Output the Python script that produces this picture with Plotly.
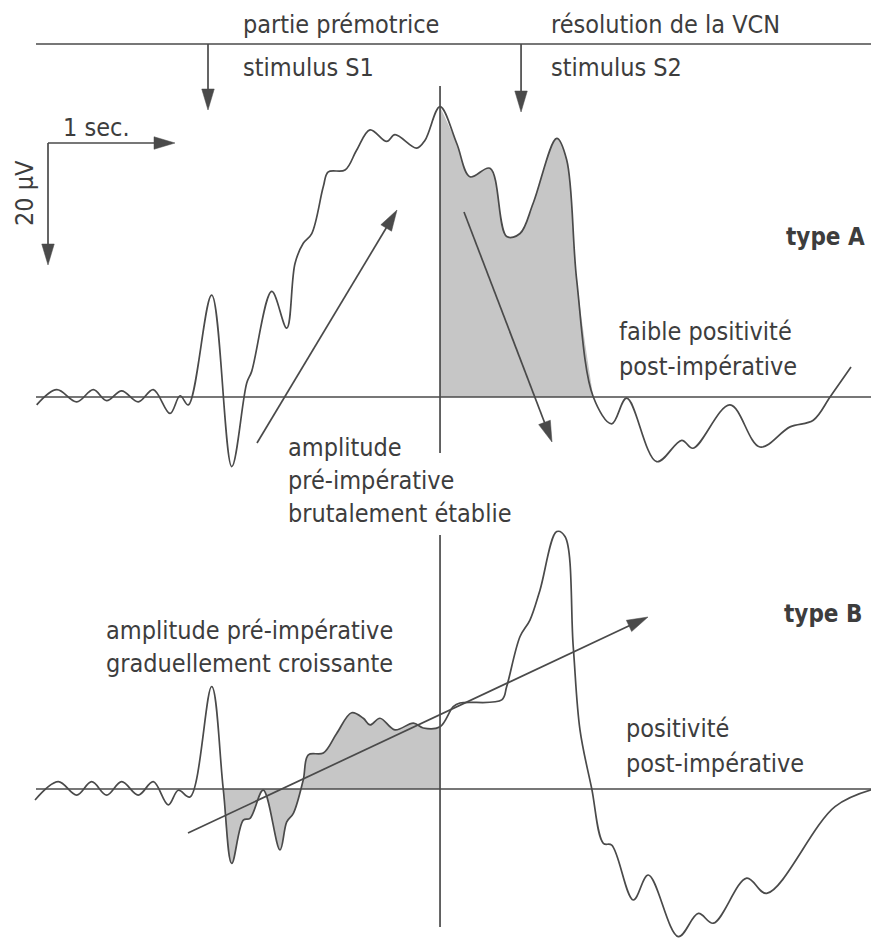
import math
import plotly.graph_objects as go

# ---------------- data (time in s from S1, amplitude in µV, negative = up) -------------
time_A = [-1.349, -1.191, -1.034, -0.903, -0.798, -0.680, -0.549, -0.431, -0.299, -0.220,
          -0.155, 0.029, 0.187, 0.305, 0.344, 0.502, 0.620, 0.685, 0.750, 0.817,
          0.908, 0.947, 1.079, 1.171, 1.276, 1.407, 1.472, 1.643, 1.709, 1.827,
          1.958, 2.063, 2.220, 2.352, 2.457, 2.561, 2.746, 2.824, 2.903, 3.034,
          3.179, 3.297, 3.533, 3.730, 3.819, 4.110, 4.346, 4.583, 4.766, 4.898, 5.063]
amp_A = [1.3, -1.2, 0.8, -1.2, 0.6, -1.0, 0.8, -1.2, 2.7, -0.2,
         1.3, -16.7, 11.4, -2.3, -4.2, -17.3, -11.3, -21.9, -25.2, -26.8,
         -34.5, -36.9, -37.2, -40.5, -43.8, -41.9, -43.0, -40.8, -42.1, -47.6,
         -41.6, -36.1, -37.5, -26.3, -26.8, -31.8, -42.4, -38.9, -19.2, 0.0,
         4.4, 0.2, 10.6, 7.1, 8.4, 1.3, 8.2, 4.9, 3.8, 0.0, -4.9]

time_B = [-1.362, -1.179, -1.034, -0.916, -0.798, -0.680, -0.549, -0.431, -0.313, -0.234,
          -0.142, 0.029, 0.120, 0.187, 0.278, 0.331, 0.435, 0.567, 0.620, 0.672,
          0.750, 0.790, 0.908, 1.013, 1.131, 1.223, 1.276, 1.354, 1.472, 1.617,
          1.695, 1.827, 1.931, 1.984, 2.313, 2.352, 2.457, 2.535, 2.614, 2.746,
          2.811, 2.876, 2.929, 3.021, 3.113, 3.179, 3.349, 3.467, 3.703, 3.861,
          3.979, 4.242, 4.399, 4.937, 5.265]
amp_B = [1.8, -1.2, 1.0, -1.2, 1.0, -1.2, 1.0, -1.2, 2.6, 0.2,
         1.3, -16.8, 0.0, 12.2, 5.1, 4.8, 0.2, 10.0, 5.4, 4.0,
         -1.5, -5.6, -5.9, -9.1, -12.5, -11.6, -10.5, -11.6, -9.7, -10.8,
         -10.0, -10.2, -13.5, -14.1, -14.6, -16.8, -25.0, -27.7, -32.6, -42.2,
         -41.4, -23.3, -9.7, -0.1, 8.9, 9.2, 18.2, 14.1, 24.2, 20.4,
         22.0, 14.6, 17.1, 2.9, -0.1]

S1_time = 0.0
S2_time = 2.465
imperative_time = 1.827
scale_time_s = 1.0
scale_amp_uV = 20.0

# shaded intervals (time limits)
shade_A = (1.827, 3.034)
shade_B = (0.120, 1.827)

# ---------------- styling / geometry -------------
LINE = "#4a4a4a"
TXT = "#3d3d3d"
FILL = "#c6c6c6"
FONT = "Liberation Sans Narrow, Arial Narrow, DejaVu Sans Condensed, Roboto, sans-serif"
W, H = 879, 939
OFF = 8            # page body margin compensation
PX_S = 127.0       # px per second
PX_UV = 6.1        # px per µV
X0 = 208           # px of S1
BASE_A, BASE_B = 397, 789
SMOOTH = 1.0


def t_of(px):
    return (px - X0) / PX_S


def vA(py):
    return (py - BASE_A) / PX_UV


def vB(py):
    return (py - BASE_B) / PX_UV


fig = go.Figure()


def sub(ts, vs, lo, hi):
    pts = [(t, v) for t, v in zip(ts, vs) if lo - 1e-9 <= t <= hi + 1e-9]
    return [p[0] for p in pts], [p[1] for p in pts]


sA = sub(time_A, amp_A, *shade_A)
sB = sub(time_B, amp_B, *shade_B)

fig.add_trace(go.Scatter(x=sA[0], y=sA[1], mode="lines", fill="tozeroy", fillcolor=FILL,
                         line=dict(width=0, shape="spline", smoothing=SMOOTH), yaxis="y",
                         hoverinfo="skip"))
fig.add_trace(go.Scatter(x=sB[0], y=sB[1], mode="lines", fill="tozeroy", fillcolor=FILL,
                         line=dict(width=0, shape="spline", smoothing=SMOOTH), yaxis="y2",
                         hoverinfo="skip"))
fig.add_trace(go.Scatter(x=time_A, y=amp_A, mode="lines",
                         line=dict(color=LINE, width=1.7, shape="spline", smoothing=SMOOTH),
                         yaxis="y", name="type A"))
fig.add_trace(go.Scatter(x=time_B, y=amp_B, mode="lines",
                         line=dict(color=LINE, width=1.7, shape="spline", smoothing=SMOOTH),
                         yaxis="y2", name="type B"))

fig.update_layout(
    width=W, height=H, margin=dict(l=0, r=0, t=0, b=0),
    paper_bgcolor="white", plot_bgcolor="white", showlegend=False,
    xaxis=dict(range=[t_of(OFF), t_of(W + OFF)], visible=False, fixedrange=True),
    yaxis=dict(domain=[0.5, 1], range=[vA(H / 2 + OFF), vA(OFF)], visible=False),
    yaxis2=dict(domain=[0, 0.5], range=[vB(H + OFF), vB(H / 2 + OFF)], visible=False),
)


def seg(p0, p1, yref, conv):
    fig.add_shape(type="line", x0=t_of(p0[0]), x1=t_of(p1[0]), y0=conv(p0[1]), y1=conv(p1[1]),
                  xref="x", yref=yref, line=dict(color=LINE, width=1.7))


# reference lines
seg((36, 44), (W + 20, 44), "y", vA)
seg((36, BASE_A), (W + 20, BASE_A), "y", vA)
seg((36, BASE_B), (W + 20, BASE_B), "y2", vB)
ix = X0 + imperative_time * PX_S
seg((ix, 86), (ix, 453), "y", vA)
seg((ix, 535), (ix, 927), "y2", vB)


def arrow(p0, p1, yref, conv, hl=21, hw=12.5):
    dx, dy = p1[0] - p0[0], p1[1] - p0[1]
    L = math.hypot(dx, dy)
    ux, uy = dx / L, dy / L
    bx, by = p1[0] - ux * hl, p1[1] - uy * hl
    seg(p0, (bx + ux * 2, by + uy * 2), yref, conv)
    nx, ny = -uy, ux
    pts = [p1, (bx + nx * hw / 2, by + ny * hw / 2), (bx - nx * hw / 2, by - ny * hw / 2)]
    path = "M " + " L ".join(f"{t_of(x):.5f},{conv(y):.5f}" for x, y in pts) + " Z"
    fig.add_shape(type="path", path=path, xref="x", yref=yref, fillcolor=LINE,
                  line=dict(color=LINE, width=0.5))


# stimulus arrows
s1x = X0 + S1_time * PX_S
s2x = X0 + S2_time * PX_S
arrow((s1x, 44), (s1x, 110), "y", vA)
arrow((s2x, 44), (s2x, 112), "y", vA)
# scale bar (1 s, 20 µV)
arrow((48, 143), (48 + scale_time_s * PX_S, 143), "y", vA)
arrow((48, 143), (48, 143 + scale_amp_uV * PX_UV), "y", vA)
# interpretive arrows
arrow((257, 443), (397, 210), "y", vA)
arrow((464, 212), (552, 442), "y", vA)
arrow((188, 833), (648, 617), "y2", vB)


def text(s, px, py, size=25, bold=False, angle=0, anchor="left"):
    fig.add_annotation(x=(px - OFF) / W, y=1 - (py - OFF) / H, xref="paper", yref="paper",
                       text=s, showarrow=False, xanchor=anchor, yanchor="middle",
                       textangle=angle,
                       font=dict(family=FONT, size=size, color=TXT,
                                 weight="bold" if bold else "normal"))


text("partie prémotrice", 241, 25)
text("stimulus S1", 241, 67)
text("résolution de la VCN", 549, 25)
text("stimulus S2", 549, 67)
text("1 sec.", 61, 127)
text("20 µV", 25, 193, angle=-90, anchor="center")
text("type A", 784, 237, size=24, bold=True)
text("faible positivité", 617, 331)
text("post-impérative", 617, 366)
text("amplitude", 286, 447)
text("pré-impérative", 286, 480)
text("brutalement établie", 286, 513)
text("type B", 782, 614, size=24, bold=True)
text("amplitude pré-impérative", 104, 630)
text("graduellement croissante", 104, 663)
text("positivité", 624, 728)
text("post-impérative", 624, 763)

fig.write_html("out.html")
